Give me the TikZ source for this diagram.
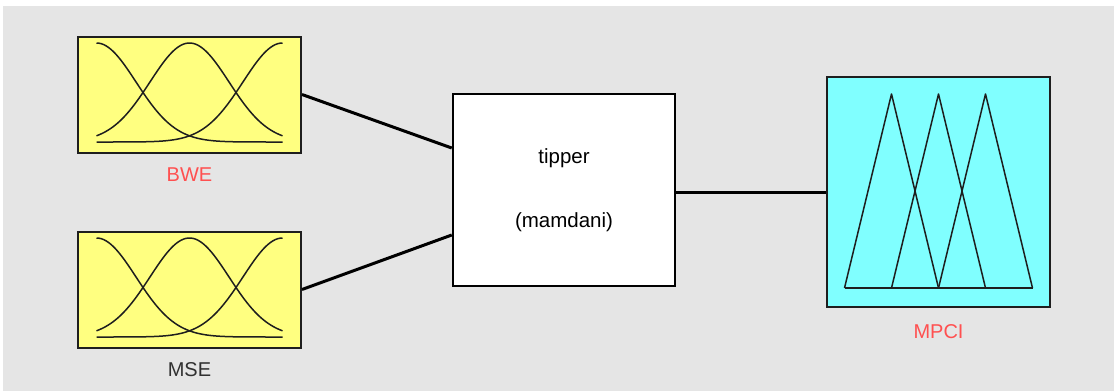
\documentclass[tikz,border=0pt]{standalone}
\usepackage{fontspec}
\setmainfont{Liberation Sans}
\usetikzlibrary{positioning}

\definecolor{panelgray}{HTML}{E5E5E5}
\definecolor{mfyellow}{HTML}{FFFF80}
\definecolor{mfcyan}{HTML}{80FFFF}
\definecolor{lblred}{HTML}{FF5050}
\definecolor{lbldark}{HTML}{303030}
\definecolor{edgedark}{HTML}{1E1E1E}

\begin{document}
\begin{tikzpicture}[
  x=1pt, y=-1pt,
  varbox/.style={draw=edgedark, line width=2pt, inner sep=0pt, minimum width=223pt},
  inbox/.style={varbox, fill=mfyellow, minimum height=116pt},
  outbox/.style={varbox, fill=mfcyan, minimum height=230pt},
  rulebox/.style={draw=black, line width=2.5pt, fill=white, minimum width=222pt, minimum height=192pt, align=center, font=\fontsize{20.5}{24}\selectfont},
  varlabel/.style={font=\fontsize{20}{24}\selectfont, inner sep=3pt},
  mfcurve/.style={draw=edgedark, line width=1.5pt, line join=round},
  conn/.style={draw=black, line width=3pt}
]
\useasboundingbox (0,0) rectangle (1114,391);
\fill[white] (0,0) rectangle (1114,391);
\fill[panelgray] (3,6) rectangle (1114,391);

% variable boxes and the rule block
\node[inbox] (bwe) at (189.5,94.5) {};
\node[inbox, below=77pt of bwe] (mse) {};
\node[rulebox] (tipper) at (564,190) {tipper\\[40pt](mamdani)};
\node[outbox] (mpci) at (938.5,192) {};

\node[varlabel, text=lblred, below=11pt of bwe] (bwelabel) {BWE};
\node[varlabel, text=lbldark, below=11pt of mse] (mselabel) {MSE};
\node[varlabel, text=lblred, below=13pt of mpci] (mpcilabel) {MPCI};

% gaussian membership functions
\foreach \v in {bwe,mse} {
  \begin{scope}[shift={(\v.center)}]
    \foreach \c in {-93,0,93}
      \draw[mfcurve] plot[domain=-93:93, samples=80, smooth]
        (\x, {47.5 - 99*exp(-0.5*((\x-\c)/39.5)^2)});
  \end{scope}
}

% triangular membership functions
\begin{scope}[shift={(mpci.center)}]
  \foreach \c in {-47,0,47}
    \draw[mfcurve] ({\c-47},96) -- (\c,-98) -- ({\c+47},96);
  \draw[mfcurve] (-94,96) -- (94,96);
\end{scope}

\draw[conn] (bwe.east) -- ([yshift=42pt]tipper.west);
\draw[conn] (mse.east) -- ([yshift=-45pt]tipper.west);
\draw[conn] ([yshift=-2pt]tipper.east) -- (mpci.west);
\end{tikzpicture}
\end{document}
